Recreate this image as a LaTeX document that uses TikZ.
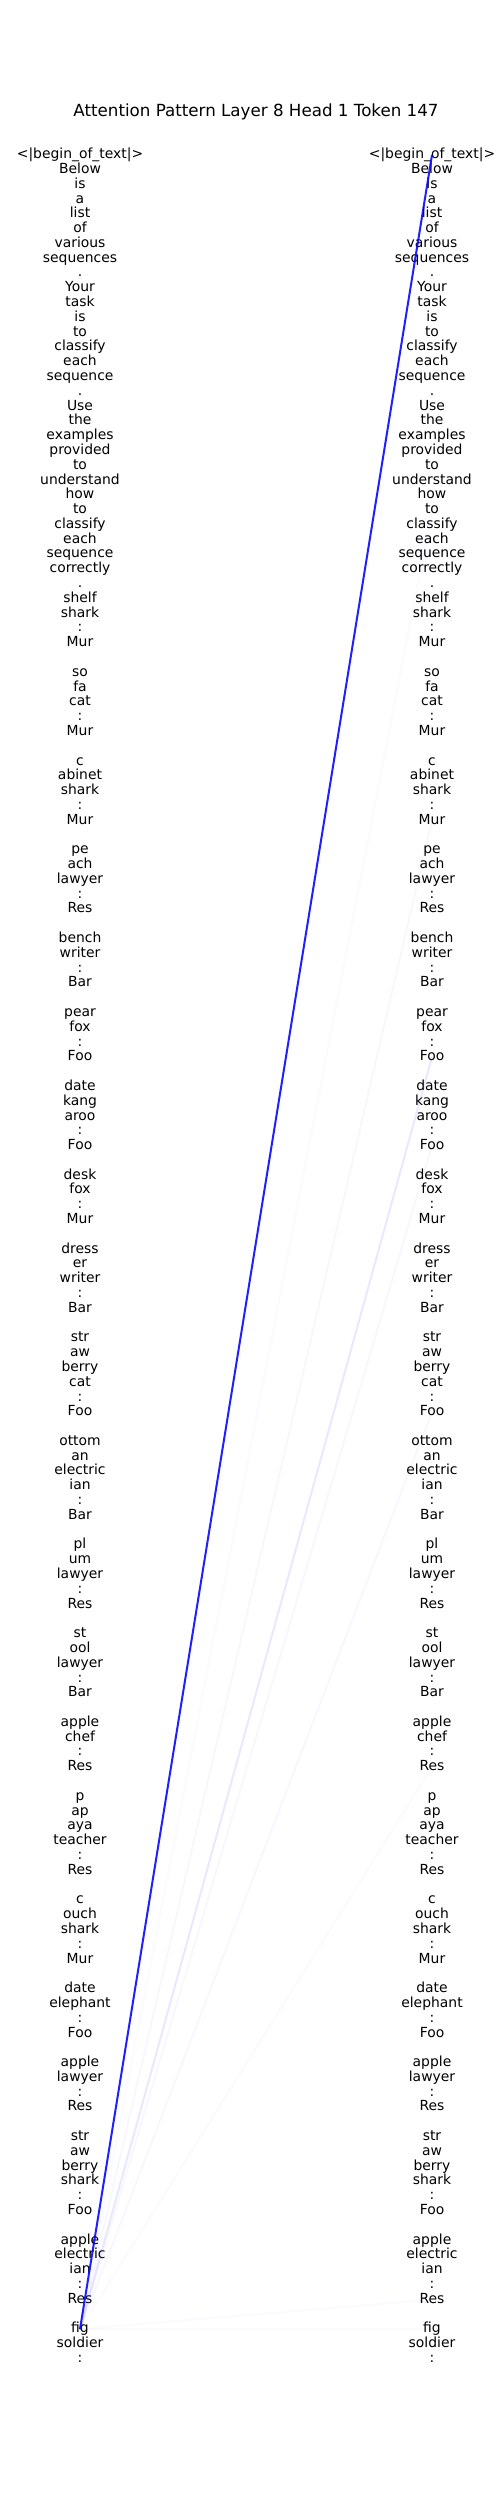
\documentclass[tikz,border=0pt]{standalone}
\usepackage{fontspec}
\setmainfont{DejaVu Sans}
\usepackage{tikz}
\tikzset{
    token/.style={inner sep=0pt, text height=10.6pt, text depth=3.3pt, font=\fontsize{13.9}{16}\selectfont},
    heading/.style={inner sep=0pt, font=\fontsize{16.7}{20}\selectfont},
    attn/.style={blue, line width=2pt, opacity=#1}
}

\begin{document}
\begin{tikzpicture}[x=1pt, y=-1pt]
    \useasboundingbox (0,0) rectangle (500,2500);
    \node (title) [heading] at (256,112) {Attention Pattern Layer 8 Head 1 Token 147};

    \foreach \tok [count=\i from 0] in {<|begin\_of\_text|>, Below, is, a, list, of, various, sequences, ., Your, task, is, to, classify, each, sequence, ., Use, the, examples, provided, to, understand, how, to, classify, each, sequence, correctly, ., shelf, shark, :, Mur, {}, so, fa, cat, :, Mur, {}, c, abinet, shark, :, Mur, {}, pe, ach, lawyer, :, Res, {}, bench, writer, :, Bar, {}, pear, fox, :, Foo, {}, date, kang, aroo, :, Foo, {}, desk, fox, :, Mur, {}, dress, er, writer, :, Bar, {}, str, aw, berry, cat, :, Foo, {}, ottom, an, electric, ian, :, Bar, {}, pl, um, lawyer, :, Res, {}, st, ool, lawyer, :, Bar, {}, apple, chef, :, Res, {}, p, ap, aya, teacher, :, Res, {}, c, ouch, shark, :, Mur, {}, date, elephant, :, Foo, {}, apple, lawyer, :, Res, {}, str, aw, berry, shark, :, Foo, {}, apple, electric, ian, :, Res, {}, fig, soldier, :} {
        \node (L\i) [token] at (80,{155+\i*14.79}) {\tok};
        \node (R\i) [token] at (432,{155+\i*14.79}) {\tok};
    }

    \foreach \j/\w in {24/0.02, 45/0.03, 61/0.09, 67/0.03, 85/0.03, 109/0.02, 145/0.02, 147/0.02}
        \draw[attn=\w] (L147.center) -- (R\j.center);
    \draw[attn=0.88] (L147.center) -- (R0.center);
\end{tikzpicture}
\end{document}
